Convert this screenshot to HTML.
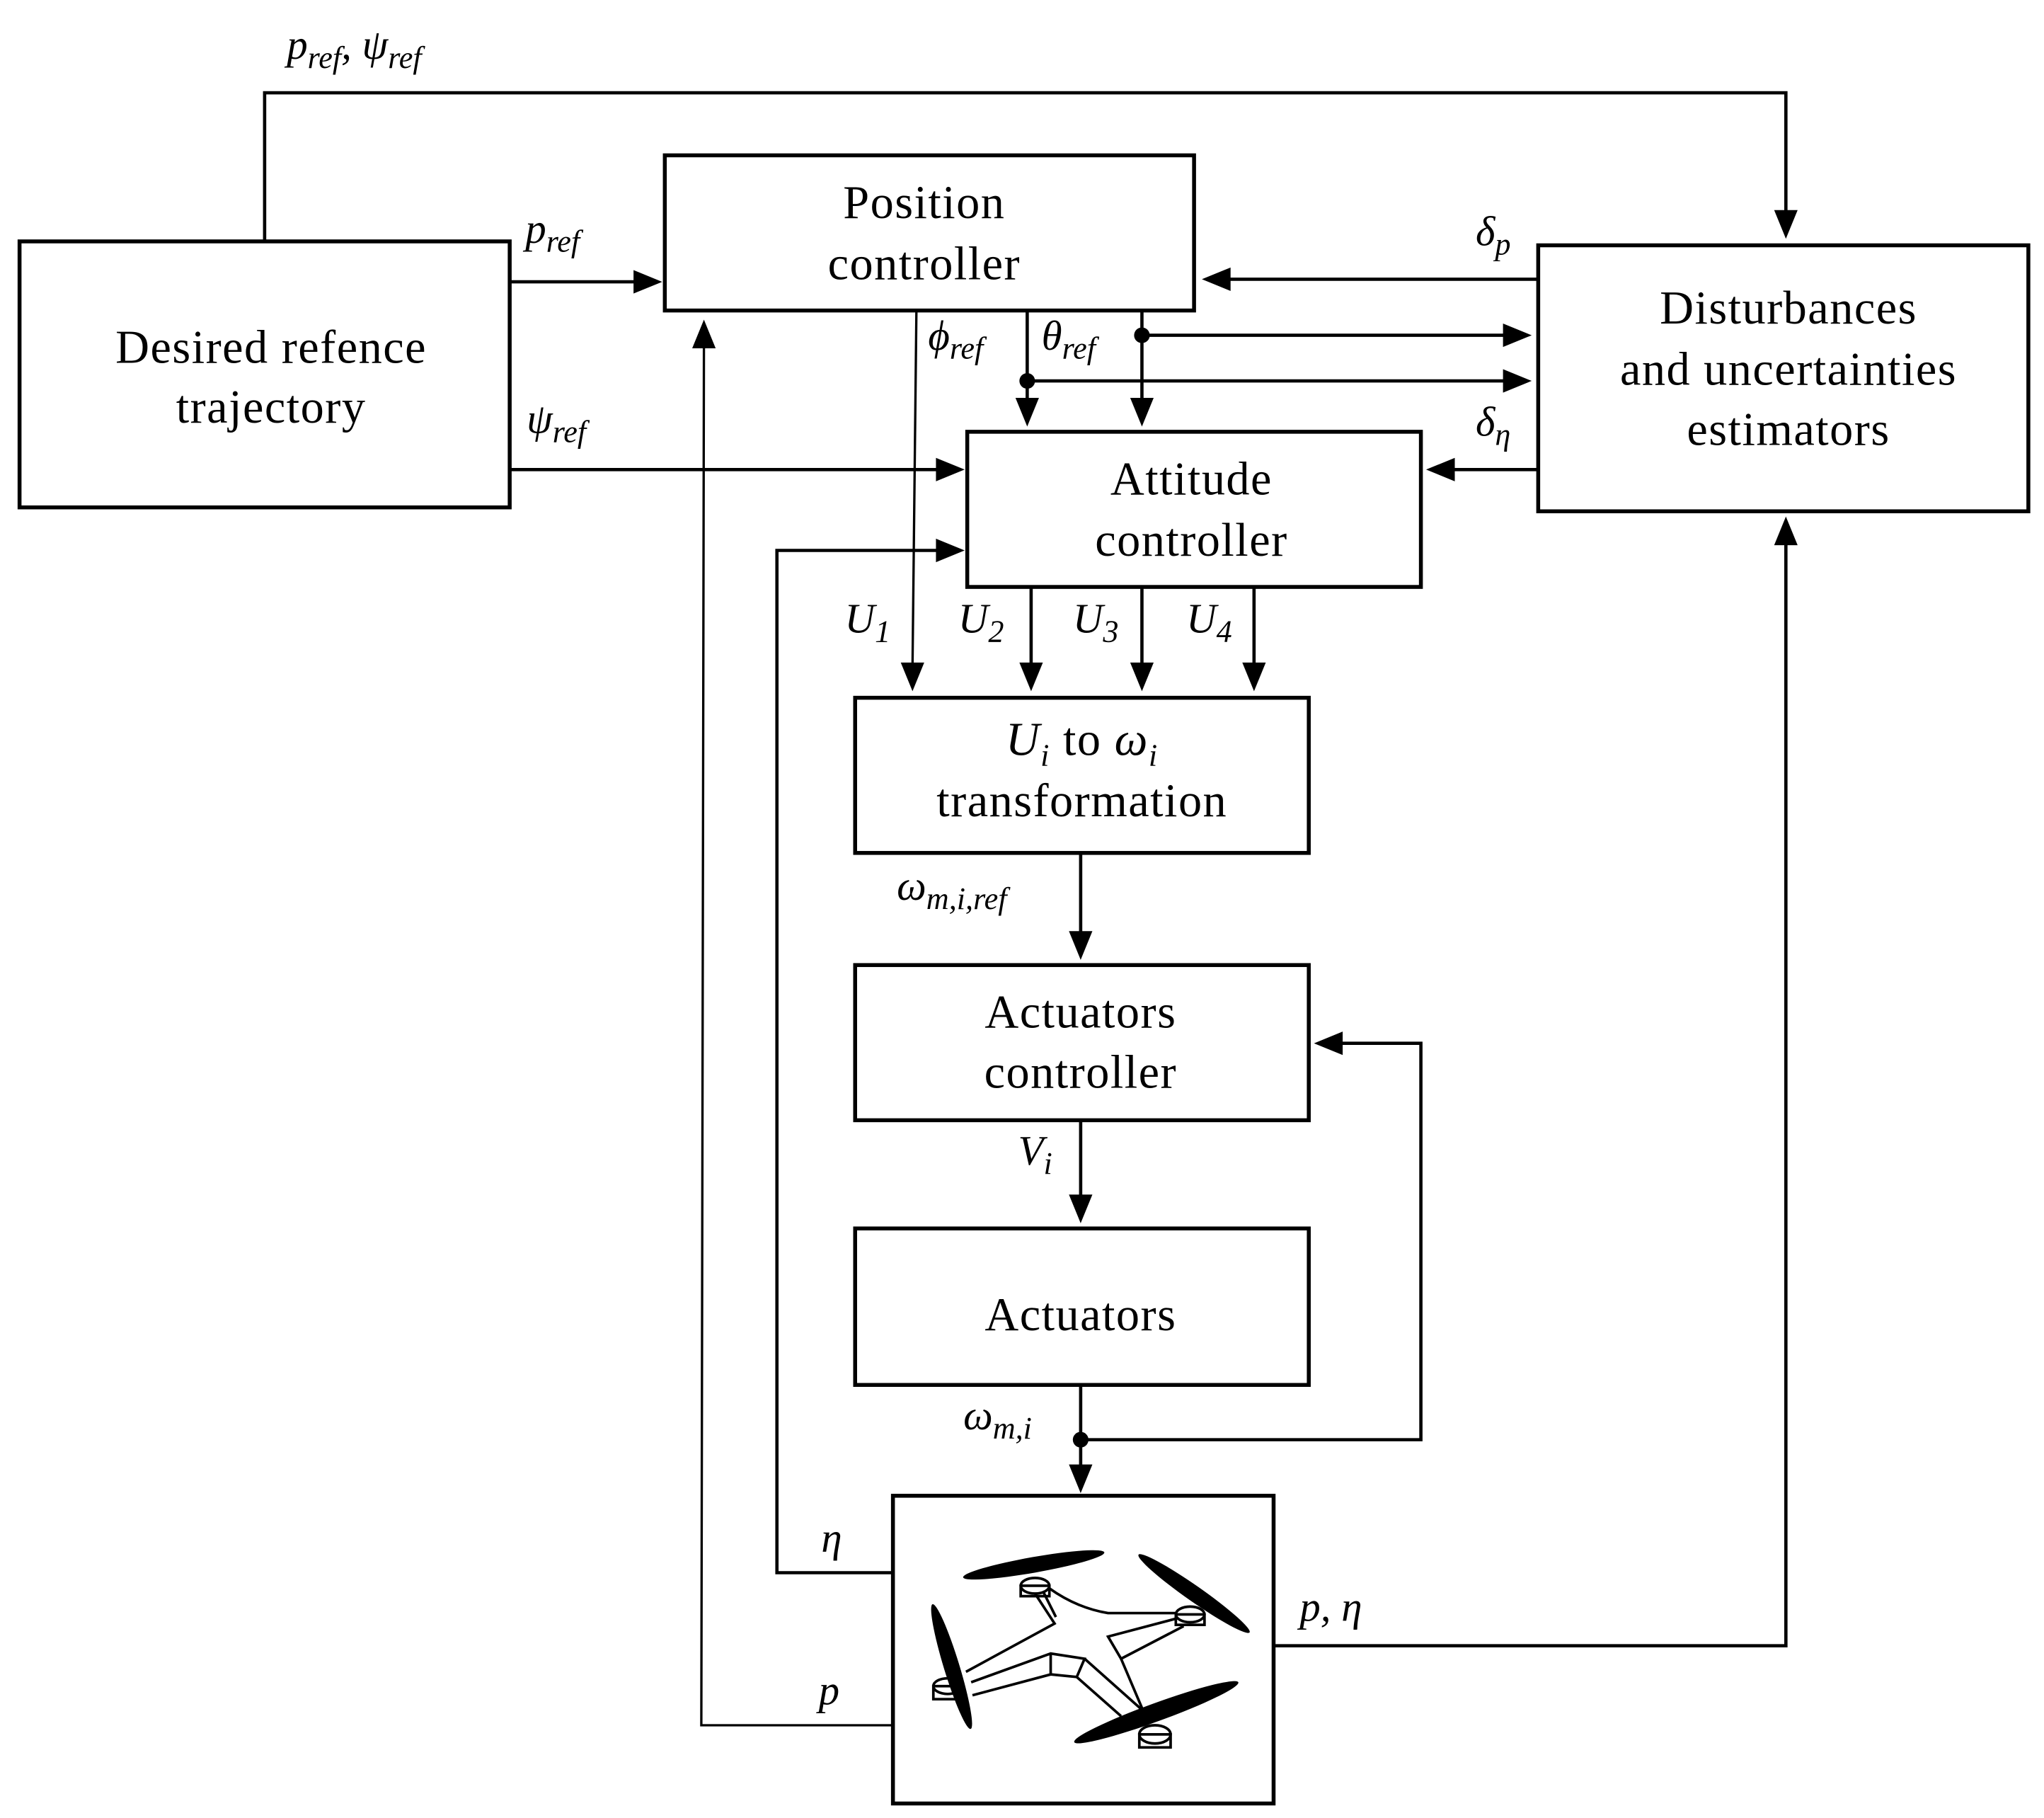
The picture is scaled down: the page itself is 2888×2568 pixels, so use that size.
<!DOCTYPE html>
<html><head><meta charset="utf-8"><style>
html,body{margin:0;padding:0;background:#fff;}
svg{display:block;}
text{font-family:"Liberation Serif","DejaVu Serif",serif;fill:#000;}
.b{font-size:36px;text-anchor:middle;letter-spacing:0.8px;}
.m{font-size:32px;font-style:italic;}
.s{font-size:24px;font-style:italic;}
</style></head><body>
<svg width="2888" height="2568" viewBox="0 0 1568 1394" xmlns="http://www.w3.org/2000/svg">
<g fill="none" stroke="#000" stroke-width="3">
<rect x="15" y="185" width="376" height="204"/>
<rect x="510" y="119" width="406" height="119"/>
<rect x="1180" y="188" width="376" height="204"/>
<rect x="742" y="331" width="348" height="119"/>
<rect x="656" y="535" width="348" height="119"/>
<rect x="656" y="740" width="348" height="119"/>
<rect x="656" y="942" width="348" height="120"/>
<rect x="685" y="1147" width="292" height="236"/>
</g>
<g fill="none" stroke="#000" stroke-width="2.5">
<polyline points="203,185 203,71 1370,71 1370,165"/>
<line x1="391" y1="216" x2="490" y2="216"/>
<line x1="391" y1="360" x2="722" y2="360"/>
<line x1="1180" y1="214" x2="940" y2="214"/>
<line x1="1180" y1="360" x2="1112" y2="360"/>
<line x1="788" y1="238" x2="788" y2="309"/>
<line x1="876" y1="238" x2="876" y2="309"/>
<line x1="876" y1="257" x2="1157" y2="257"/>
<line x1="788" y1="292" x2="1157" y2="292"/>
<line x1="791" y1="450" x2="791" y2="512"/>
<line x1="876" y1="450" x2="876" y2="512"/>
<line x1="962" y1="450" x2="962" y2="512"/>
<line x1="829" y1="654" x2="829" y2="718"/>
<line x1="829" y1="859" x2="829" y2="920"/>
<line x1="829" y1="1062" x2="829" y2="1127"/>
<polyline points="829,1104 1090,1104 1090,800 1026,800"/>
<polyline points="685,1206 596,1206 596,422 722,422"/>
<polyline points="977,1262 1370,1262 1370,414"/>
</g>
<g fill="none" stroke="#000" stroke-width="1.8">
<line x1="703" y1="238" x2="700" y2="512"/>
<polyline points="685,1323 538,1323 540,265"/>
</g>
<g fill="#000">
<polygon points="1370,183 1361,161 1379,161"/>
<polygon points="508,216 486,207 486,225"/>
<polygon points="740,360 718,351 718,369"/>
<polygon points="922,214 944,205 944,223"/>
<polygon points="1094,360 1116,351 1116,369"/>
<polygon points="788,327 779,305 797,305"/>
<polygon points="876,327 867,305 885,305"/>
<polygon points="1175,257 1153,248 1153,266"/>
<polygon points="1175,292 1153,283 1153,301"/>
<polygon points="700,530 691,508 709,508"/>
<polygon points="791,530 782,508 800,508"/>
<polygon points="876,530 867,508 885,508"/>
<polygon points="962,530 953,508 971,508"/>
<polygon points="829,736 820,714 838,714"/>
<polygon points="829,938 820,916 838,916"/>
<polygon points="829,1145 820,1123 838,1123"/>
<polygon points="1008,800 1030,791 1030,809"/>
<polygon points="740,422 718,413 718,431"/>
<polygon points="540,245 531,267 549,267"/>
<polygon points="1370,396 1361,418 1379,418"/>
<circle cx="876" cy="257" r="6"/>
<circle cx="788" cy="292" r="6"/>
<circle cx="829" cy="1104" r="6"/>
</g>
<g fill="#000">
<ellipse cx="793" cy="1200" rx="55" ry="6" transform="rotate(-10 793 1200)"/>
<ellipse cx="916" cy="1222" rx="52" ry="6" transform="rotate(35 916 1222)"/>
<ellipse cx="730" cy="1278" rx="50" ry="6" transform="rotate(73 730 1278)"/>
<ellipse cx="887" cy="1313" rx="67" ry="7" transform="rotate(-20 887 1313)"/>
</g>
<g fill="none" stroke="#000" stroke-width="2">
<ellipse cx="794" cy="1216" rx="11" ry="6"/><rect x="783" y="1216" width="22" height="8"/>
<ellipse cx="913" cy="1238" rx="11" ry="6"/><rect x="902" y="1238" width="22" height="8"/>
<ellipse cx="727" cy="1293" rx="11" ry="6"/><rect x="716" y="1293" width="22" height="10"/>
<ellipse cx="886" cy="1330" rx="12" ry="7"/><rect x="874" y="1330" width="24" height="10"/>
<polyline points="794,1222 809,1245 741,1282"/>
<line x1="800" y1="1220" x2="810" y2="1240"/>
<polyline points="745,1290 806,1268 832,1272 826,1286 806,1284 746,1300"/>
<line x1="806" y1="1268" x2="806" y2="1284"/>
<line x1="832" y1="1272" x2="877" y2="1312"/>
<line x1="826" y1="1286" x2="860" y2="1316"/>
<polyline points="903,1241 850,1255 860,1272 908,1247"/>
<line x1="860" y1="1272" x2="877" y2="1312"/>
<path d="M805,1218 Q826,1233 850,1237 L903,1237"/>
</g>
<text class="b" x="208" y="278">Desired refence</text>
<text class="b" x="208" y="324">trajectory</text>
<text class="b" x="709" y="167">Position</text>
<text class="b" x="709" y="214">controller</text>
<text class="b" x="1372" y="248">Disturbances</text>
<text class="b" x="1372" y="295">and uncertainties</text>
<text class="b" x="1372" y="341">estimators</text>
<text class="b" x="914" y="379">Attitude</text>
<text class="b" x="914" y="426">controller</text>
<text class="b" x="830" y="579"><tspan font-style="italic">U<tspan class="s" dy="8">i</tspan></tspan><tspan dy="-8"> to </tspan><tspan font-style="italic">ω<tspan class="s" dy="8">i</tspan></tspan></text>
<text class="b" x="830" y="626">transformation</text>
<text class="b" x="829" y="788">Actuators</text>
<text class="b" x="829" y="834">controller</text>
<text class="b" x="829" y="1020">Actuators</text>
<text class="m" x="220" y="45">p<tspan class="s" dy="7">ref</tspan><tspan dy="-7">,  ψ</tspan><tspan class="s" dy="7">ref</tspan></text>
<text class="m" x="403" y="186">p<tspan class="s" dy="7">ref</tspan></text>
<text class="m" x="404" y="332">ψ<tspan class="s" dy="7">ref</tspan></text>
<text class="m" x="1132" y="188">δ<tspan class="s" dy="7">p</tspan></text>
<text class="m" x="1132" y="334">δ<tspan class="s" dy="7">η</tspan></text>
<text class="m" x="712" y="268">ϕ<tspan class="s" dy="7">ref</tspan></text>
<text class="m" x="799" y="268">θ<tspan class="s" dy="7">ref</tspan></text>
<text class="m" x="648" y="485">U<tspan class="s" dy="7" font-style="normal">1</tspan></text>
<text class="m" x="735" y="485">U<tspan class="s" dy="7" font-style="normal">2</tspan></text>
<text class="m" x="823" y="485">U<tspan class="s" dy="7" font-style="normal">3</tspan></text>
<text class="m" x="910" y="485">U<tspan class="s" dy="7" font-style="normal">4</tspan></text>
<text class="m" x="688" y="690">ω<tspan class="s" dy="7">m,i,ref</tspan></text>
<text class="m" x="781" y="893">V<tspan class="s" dy="7">i</tspan></text>
<text class="m" x="739" y="1096">ω<tspan class="s" dy="7">m,i</tspan></text>
<text class="m" x="630" y="1190">η</text>
<text class="m" x="628" y="1307">p</text>
<text class="m" x="997" y="1243">p, η</text>
</svg>
</body></html>
